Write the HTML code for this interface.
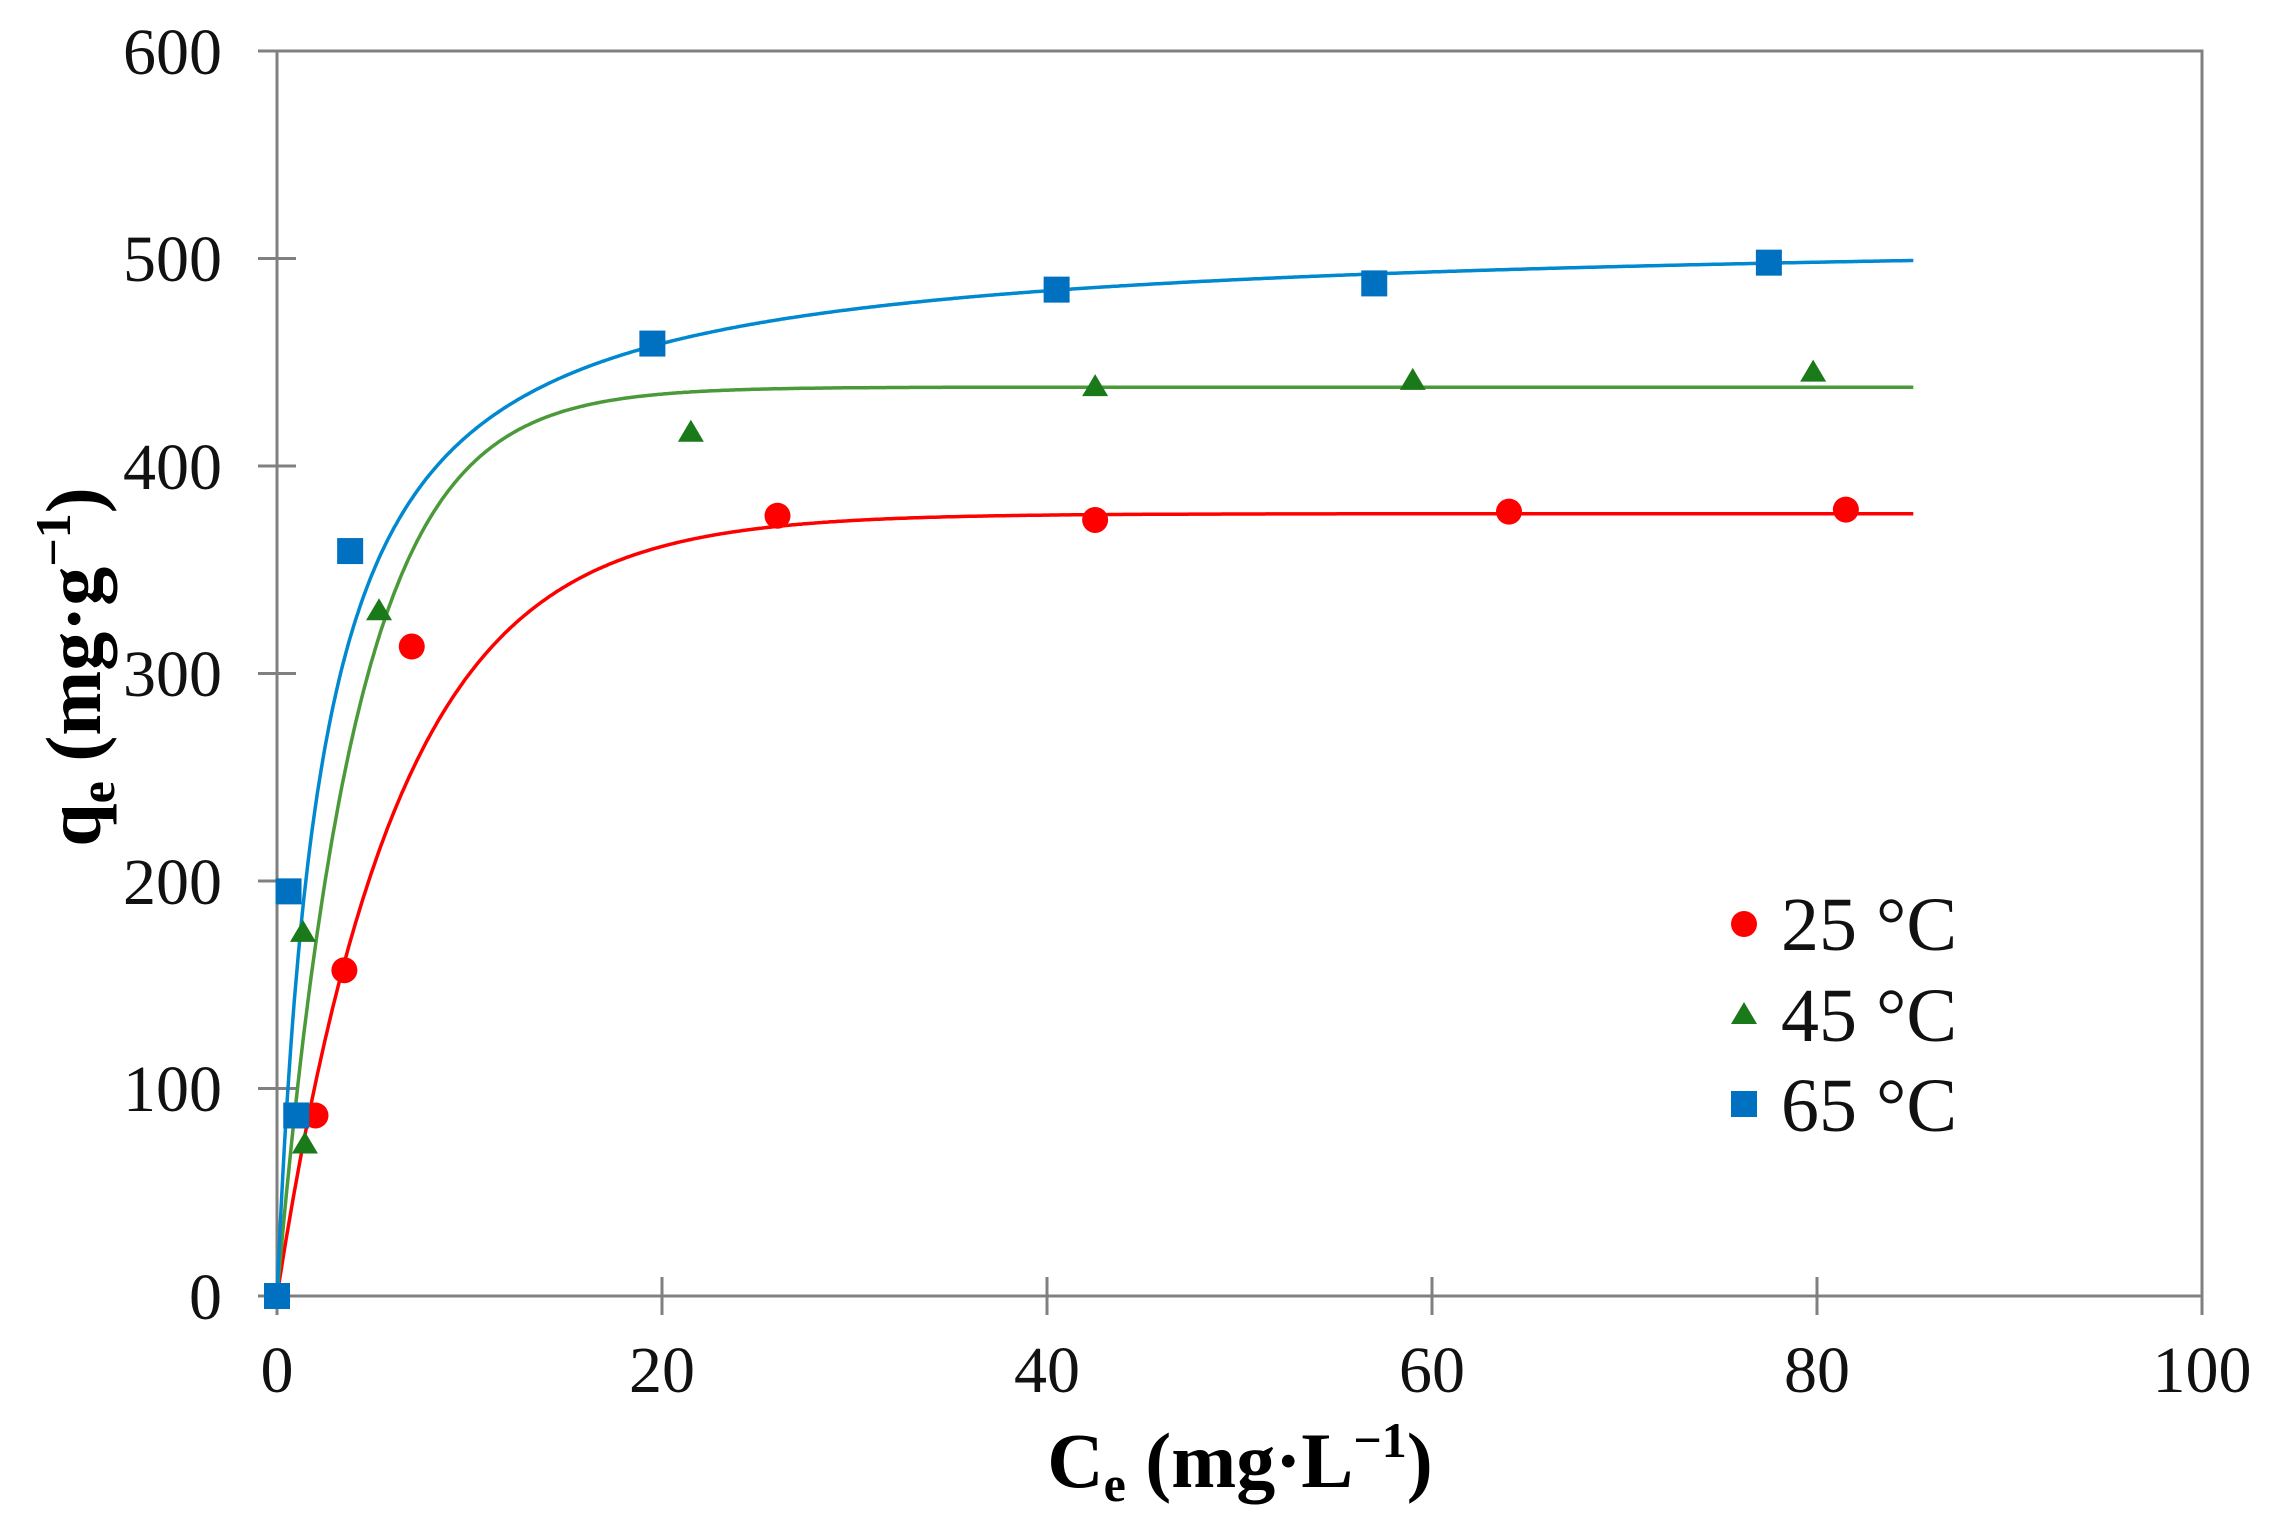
<!DOCTYPE html>
<html><head><meta charset="utf-8"><style>
html,body{margin:0;padding:0;background:#fff;}
svg{display:block;}
text{font-family:"Liberation Serif",serif;}
</style></head><body>
<svg id="s" width="2281" height="1534" viewBox="0 0 2281 1534" xmlns="http://www.w3.org/2000/svg">
<rect width="2281" height="1534" fill="#fff"/>
<g stroke="#808080" stroke-width="3" fill="none">
<rect x="277" y="51" width="1925" height="1245"/>
<line x1="258" y1="1296" x2="296" y2="1296"/>
<line x1="258" y1="1088.5" x2="296" y2="1088.5"/>
<line x1="258" y1="881" x2="296" y2="881"/>
<line x1="258" y1="673.5" x2="296" y2="673.5"/>
<line x1="258" y1="466" x2="296" y2="466"/>
<line x1="258" y1="258.5" x2="296" y2="258.5"/>
<line x1="258" y1="51" x2="296" y2="51"/>
<line x1="277" y1="1277" x2="277" y2="1315"/>
<line x1="662" y1="1277" x2="662" y2="1315"/>
<line x1="1047" y1="1277" x2="1047" y2="1315"/>
<line x1="1432" y1="1277" x2="1432" y2="1315"/>
<line x1="1817" y1="1277" x2="1817" y2="1315"/>
<line x1="2202" y1="1277" x2="2202" y2="1315"/>
</g>
<g font-size="66" text-anchor="end" fill="#111">
<text x="222" y="1319">0</text>
<text x="222" y="1111">100</text>
<text x="222" y="904">200</text>
<text x="222" y="696">300</text>
<text x="222" y="489">400</text>
<text x="222" y="281">500</text>
<text x="222" y="74">600</text>
</g>
<g font-size="66" text-anchor="middle" fill="#111">
<text x="277" y="1392">0</text>
<text x="662" y="1392">20</text>
<text x="1047" y="1392">40</text>
<text x="1432" y="1392">60</text>
<text x="1817" y="1392">80</text>
<text x="2202" y="1392">100</text>
</g>
<text x="1240" y="1487" font-size="78" font-weight="bold" text-anchor="middle" fill="#000">C<tspan font-size="50" dy="14">e</tspan><tspan dy="-14"> (mg·L</tspan><tspan font-size="50" dy="-30">−1</tspan><tspan dy="30">)</tspan></text>
<text transform="translate(100,667) rotate(-90)" font-size="78" font-weight="bold" text-anchor="middle" fill="#000">q<tspan font-size="50" dy="14">e</tspan><tspan dy="-14"> (mg·g</tspan><tspan font-size="50" dy="-30">−1</tspan><tspan dy="30">)</tspan></text>
<g id="curves" fill="none" stroke-width="3.5"></g>
<g id="pts"></g>
<circle cx="1744" cy="924" r="13" fill="#ff0000"/>
<polygon points="1744,1002 1757,1024 1731,1024" fill="#1a7a1a"/>
<rect x="1731" y="1091" width="26" height="26" fill="#0070c0"/>
<g font-size="76" fill="#111">
<text x="1781" y="950">25 °C</text>
<text x="1781" y="1041">45 °C</text>
<text x="1781" y="1131">65 °C</text>
</g>
</svg>
<script>
var X=function(d){return 277+19.25*d},Y=function(v){return 1296-2.075*v};
var ns="http://www.w3.org/2000/svg";
function curve(f,col){var p="";for(var i=0;i<=850;i++){var x=i/10;p+=(i?"L":"M")+X(x).toFixed(1)+" "+Y(f(x)).toFixed(1);}
var e=document.createElementNS(ns,"path");e.setAttribute("d",p);e.setAttribute("stroke",col);document.getElementById("curves").appendChild(e);}
curve(function(x){return 377*(1-Math.exp(-x/6.3))},"#ff0000");
curve(function(x){return 438*(1-Math.exp(-x/4.1))},"#4a9a3a");
curve(function(x){return 512.8*0.427*x/(1+0.427*x)},"#0088d0");
var g=document.getElementById("pts");
function add(tag,at){var e=document.createElementNS(ns,tag);for(var k in at)e.setAttribute(k,at[k]);g.appendChild(e);}
[[0,0],[2,87],[3.5,157],[7,313],[26,376],[42.5,374],[64,378],[81.5,379]].forEach(function(p){add("circle",{cx:X(p[0]),cy:Y(p[1]),r:13,fill:"#ff0000"});});
[[0,0],[1.45,73],[1.35,175],[5.3,330],[21.5,416],[42.5,438],[59,441],[79.8,445]].forEach(function(p){var x=X(p[0]),y=Y(p[1]);add("polygon",{points:x+","+(y-13)+" "+(x+13)+","+(y+9)+" "+(x-13)+","+(y+9),fill:"#1a7a1a"});});
[[0,0],[1,87],[0.6,195],[3.8,359],[19.5,459],[40.5,485],[57,488],[77.5,498]].forEach(function(p){add("rect",{x:X(p[0])-13,y:Y(p[1])-13,width:26,height:26,fill:"#0070c0"});});
</script>
</body></html>
